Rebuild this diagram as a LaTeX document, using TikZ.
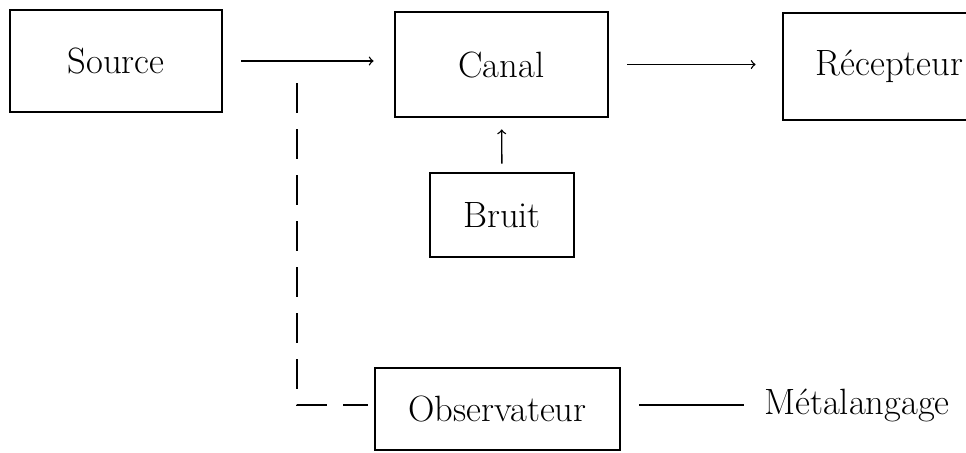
\documentclass[tikz,border=0pt]{standalone}
\usepackage{tikz}

\begin{document}
\begin{tikzpicture}[x=0.5pt,y=-0.5pt]
    \def \boxline {1.4pt}
    \def \gap {9pt} % space left between an arrow and its boxes
    \tikzset{
      bloc/.style={draw, line width=\boxline, inner sep=0pt,
        font=\fontsize{18.3}{22}\selectfont},
      label/.style={inner sep=0pt, font=\fontsize{18.3}{22}\selectfont},
      fleche/.style={->, line width=0.7pt, shorten <=\gap, shorten >=\gap}
    }
    \useasboundingbox (0,0) rectangle (966,452);
    \node[bloc, minimum width=106pt, minimum height=51pt] (source) at (116,61) {Source};
    \node[bloc, minimum width=106.5pt, minimum height=52.5pt] (canal) at (501.5,64.5) {Canal};
    \node[bloc, minimum width=106.5pt, minimum height=53.5pt] (recepteur) at (889.5,66.5) {Récepteur};
    \node[bloc, minimum width=72pt, minimum height=42pt] (bruit) at (502,215) {Bruit};
    \node[bloc, minimum width=122.5pt, minimum height=41pt] (observateur) at (497.5,409) {Observateur};
    \node[label] (meta) at (857,405) {Métalangage};
    \draw[fleche, shorten >=10pt] (source.east) -- (source.east -| canal.west);
    \draw[fleche, shorten >=13pt] (canal.east) -- (canal.east -| recepteur.west);
    \draw[fleche, shorten <=4pt, shorten >=5.5pt] (bruit) -- (canal);
    \draw[line width=0.7pt, shorten <=\gap, shorten >=10pt] (observateur.east |- meta) -- (meta.west);
    % the observer taps the channel input
    \coordinate (prise) at (297,83);
    \draw[line width=0.7pt, dash pattern=on 15pt off 8pt, shorten >=3pt]
      (prise) |- (observateur.west |- meta);
\end{tikzpicture}
\end{document}
